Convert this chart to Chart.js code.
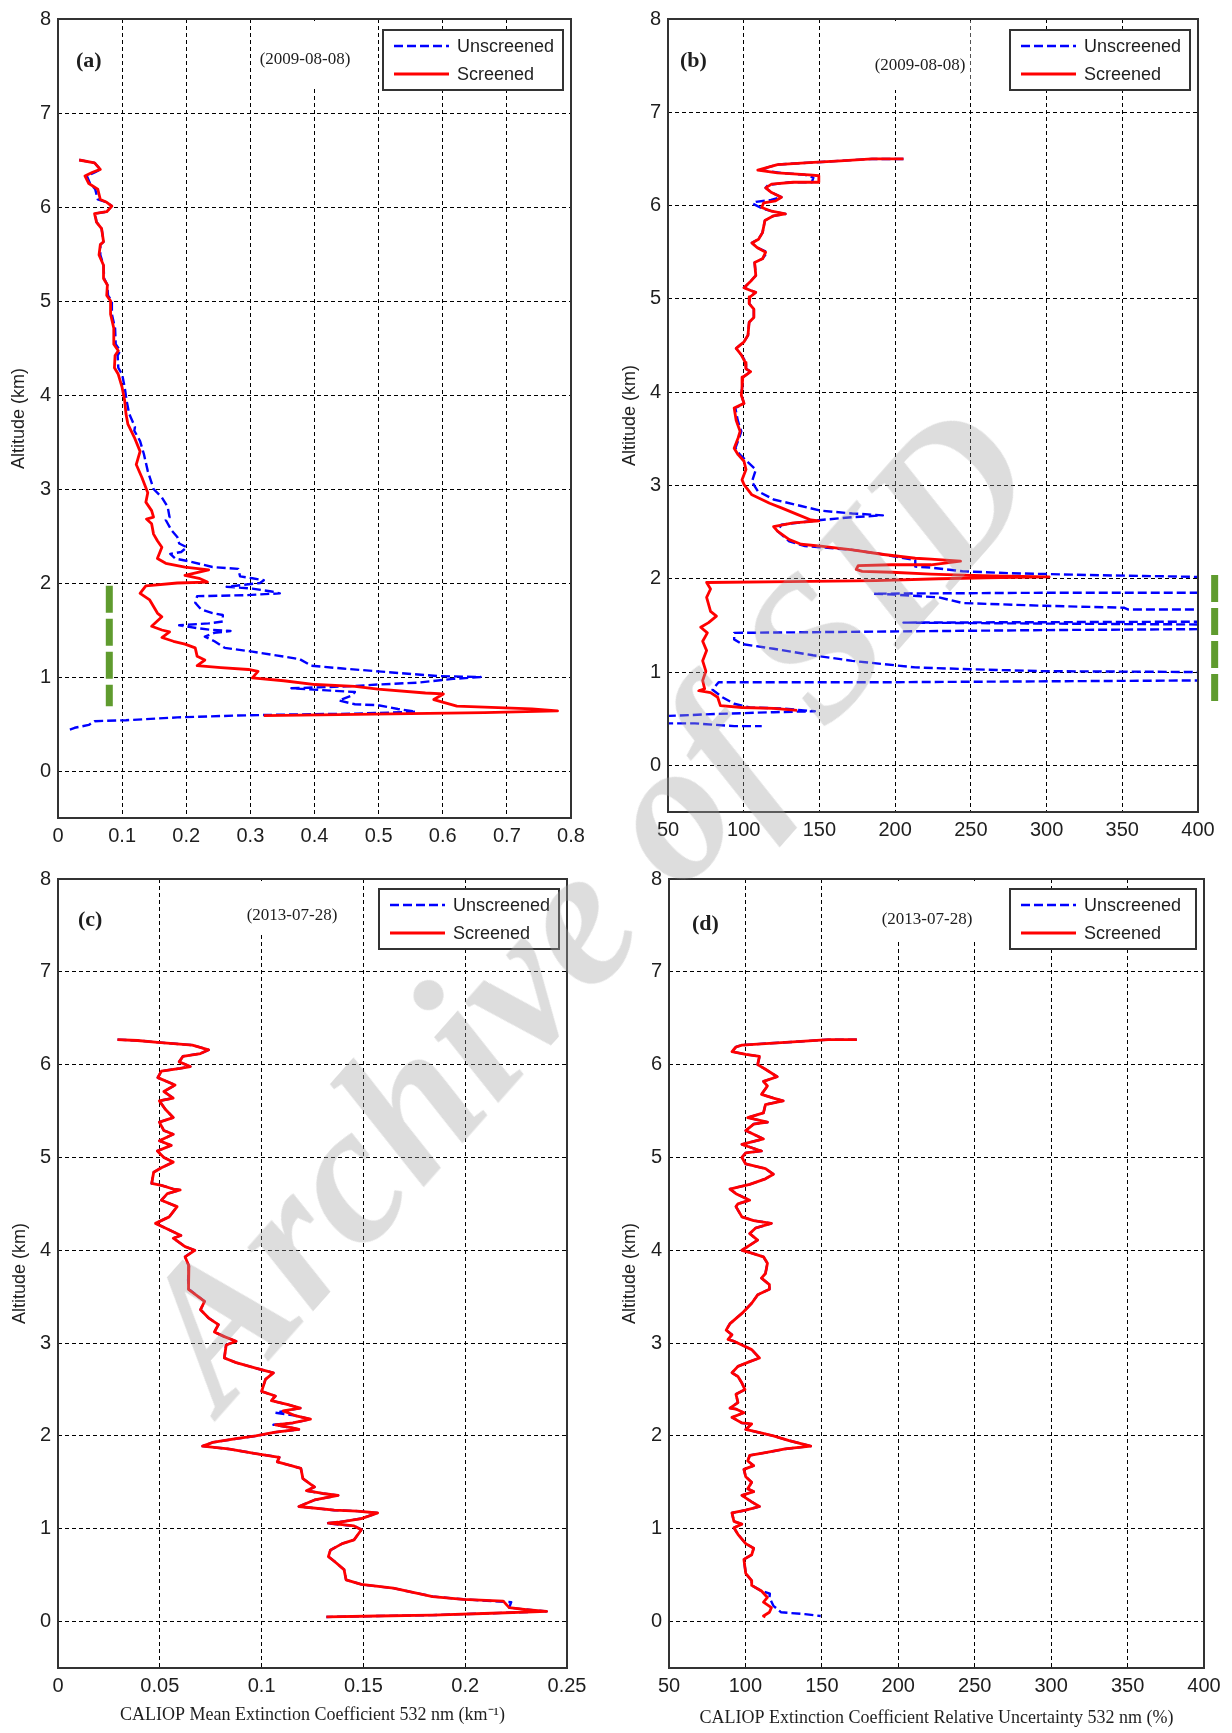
<!DOCTYPE html>
<html>
<head>
<meta charset="utf-8">
<script src="https://cdn.jsdelivr.net/npm/chart.js@4.4.1/dist/chart.umd.min.js"></script>
<style>
    body { margin: 0; background: #fff; width: 1232px; height: 1733px; position: relative; overflow: hidden; }
    canvas { position: absolute; }
    #wm {
        position: absolute; left: 584px; top: 904px;
        transform: translate(-50%, -50%) rotate(-48.5deg);
        font: italic bold 200px 'Liberation Serif', serif; line-height: 1;
        color: rgba(160, 160, 160, 0.36); white-space: nowrap; pointer-events: none;
    }
</style>
</head>
<body>
<canvas id="pa" style="left:0;top:0" width="616" height="860"></canvas>
<canvas id="pb" style="left:616px;top:0" width="616" height="860"></canvas>
<canvas id="pc" style="left:0;top:860px" width="616" height="873"></canvas>
<canvas id="pd" style="left:616px;top:860px" width="616" height="873"></canvas>
<div id="wm">Archive of SID</div>
<script>
// ---- tick values / labels ----
const altTicks = [0, 1, 2, 3, 4, 5, 6, 7, 8];
const altLabels = ['0', '1', '2', '3', '4', '5', '6', '7', '8'];
const extTicksA = [0, 0.1, 0.2, 0.3, 0.4, 0.5, 0.6, 0.7, 0.8];
const extLabelsA = ['0', '0.1', '0.2', '0.3', '0.4', '0.5', '0.6', '0.7', '0.8'];
const extTicksC = [0, 0.05, 0.1, 0.15, 0.2, 0.25];
const extLabelsC = ['0', '0.05', '0.1', '0.15', '0.2', '0.25'];
const uncTicks = [50, 100, 150, 200, 250, 300, 350, 400];
const uncLabels = ['50', '100', '150', '200', '250', '300', '350', '400'];

const seriesNames = ['Unscreened', 'Screened'];
const date2009 = '(2009-08-08)';
const date2013 = '(2013-07-28)';

// ---- profiles: [value, altitude km] ----
// (a) extinction, 2009-08-08
const extA_screened = [[0.033,6.50],[0.057,6.47],[0.066,6.40],[0.054,6.37],[0.042,6.33],[0.048,6.25],[0.062,6.19],[0.066,6.08],[0.076,6.05],[0.084,6.01],[0.076,5.95],[0.057,5.93],[0.060,5.84],[0.068,5.77],[0.071,5.63],[0.066,5.60],[0.064,5.49],[0.071,5.38],[0.071,5.24],[0.077,5.17],[0.076,5.06],[0.082,5.00],[0.082,4.86],[0.087,4.71],[0.087,4.54],[0.094,4.47],[0.089,4.42],[0.088,4.29],[0.094,4.22],[0.100,4.08],[0.104,3.94],[0.106,3.80],[0.109,3.69],[0.119,3.55],[0.128,3.40],[0.122,3.26],[0.131,3.12],[0.140,2.96],[0.137,2.86],[0.146,2.77],[0.149,2.70],[0.138,2.68],[0.146,2.63],[0.149,2.52],[0.155,2.45],[0.162,2.38],[0.155,2.26],[0.168,2.21],[0.198,2.17],[0.235,2.14],[0.198,2.08],[0.220,2.05],[0.233,2.01],[0.186,2.00],[0.137,1.97],[0.128,1.89],[0.143,1.82],[0.155,1.68],[0.162,1.64],[0.146,1.54],[0.162,1.50],[0.174,1.48],[0.162,1.42],[0.180,1.38],[0.198,1.35],[0.214,1.31],[0.217,1.22],[0.229,1.18],[0.217,1.12],[0.254,1.10],[0.297,1.08],[0.312,1.06],[0.303,0.99],[0.352,0.96],[0.401,0.92],[0.463,0.90],[0.499,0.87],[0.573,0.83],[0.601,0.82],[0.586,0.76],[0.622,0.69],[0.665,0.68],[0.739,0.66],[0.779,0.64],[0.665,0.62],[0.549,0.61],[0.438,0.60],[0.321,0.59]];
const extA_unscreened = [[0.033,6.50],[0.057,6.47],[0.066,6.40],[0.058,6.37],[0.045,6.33],[0.050,6.25],[0.058,6.19],[0.062,6.08],[0.076,6.05],[0.084,6.01],[0.076,5.95],[0.058,5.93],[0.060,5.84],[0.068,5.77],[0.071,5.63],[0.066,5.60],[0.066,5.49],[0.071,5.38],[0.072,5.24],[0.077,5.17],[0.078,5.06],[0.084,5.00],[0.084,4.86],[0.089,4.71],[0.090,4.54],[0.097,4.47],[0.093,4.42],[0.094,4.29],[0.100,4.22],[0.104,4.08],[0.107,3.94],[0.111,3.80],[0.120,3.66],[0.119,3.62],[0.128,3.51],[0.134,3.37],[0.140,3.19],[0.149,3.00],[0.162,2.91],[0.171,2.81],[0.174,2.70],[0.168,2.67],[0.177,2.56],[0.186,2.49],[0.189,2.42],[0.201,2.38],[0.192,2.33],[0.175,2.31],[0.183,2.26],[0.205,2.23],[0.241,2.17],[0.281,2.15],[0.284,2.07],[0.303,2.05],[0.321,2.03],[0.315,2.00],[0.263,1.96],[0.303,1.94],[0.333,1.91],[0.346,1.89],[0.291,1.87],[0.217,1.86],[0.214,1.79],[0.223,1.72],[0.241,1.68],[0.257,1.66],[0.257,1.59],[0.235,1.57],[0.189,1.55],[0.217,1.52],[0.241,1.50],[0.269,1.49],[0.244,1.47],[0.229,1.43],[0.244,1.38],[0.260,1.31],[0.303,1.27],[0.340,1.23],[0.377,1.19],[0.395,1.12],[0.444,1.09],[0.499,1.06],[0.555,1.03],[0.592,1.01],[0.659,1.00],[0.616,0.98],[0.561,0.94],[0.499,0.92],[0.450,0.90],[0.364,0.88],[0.413,0.86],[0.463,0.84],[0.457,0.80],[0.438,0.75],[0.463,0.71],[0.499,0.70],[0.530,0.66],[0.558,0.63],[0.463,0.61],[0.352,0.60],[0.278,0.59],[0.186,0.57],[0.106,0.54],[0.057,0.53],[0.048,0.49],[0.026,0.46],[0.014,0.43]];
const extA_layer = [[0.080,1.97],[0.080,0.69]];

// (b) relative uncertainty, 2009-08-08
const uncB_screened = [[205.5,6.50],[184.7,6.50],[163.9,6.48],[143.1,6.46],[122.3,6.44],[115.8,6.41],[109.3,6.38],[122.3,6.35],[143.1,6.33],[149.6,6.32],[149.6,6.25],[132.7,6.25],[118.4,6.23],[114.5,6.19],[118.4,6.14],[124.9,6.09],[121.0,6.05],[113.2,6.03],[111.9,5.98],[118.4,5.94],[127.5,5.91],[119.7,5.89],[114.0,5.84],[112.4,5.71],[109.8,5.64],[105.4,5.60],[108.8,5.55],[114.5,5.50],[112.4,5.43],[107.2,5.39],[108.0,5.25],[104.1,5.18],[100.2,5.12],[104.6,5.09],[108.0,5.07],[104.1,5.02],[103.6,4.95],[106.7,4.89],[106.7,4.80],[103.6,4.75],[102.8,4.61],[100.2,4.54],[95.0,4.47],[98.4,4.40],[101.0,4.32],[101.5,4.25],[104.6,4.22],[99.4,4.16],[98.9,4.04],[98.4,3.97],[100.2,3.88],[93.7,3.83],[95.0,3.70],[97.6,3.58],[96.3,3.51],[93.7,3.40],[96.3,3.33],[100.2,3.26],[101.5,3.17],[98.9,3.06],[100.2,3.01],[105.4,2.90],[117.1,2.81],[124.9,2.76],[135.3,2.69],[144.4,2.63],[149.6,2.62],[132.7,2.60],[119.7,2.56],[122.3,2.51],[130.1,2.42],[137.9,2.37],[150.9,2.35],[171.7,2.31],[192.5,2.26],[213.3,2.22],[223.7,2.21],[243.2,2.19],[223.7,2.15],[197.7,2.15],[175.6,2.14],[174.3,2.10],[178.2,2.08],[197.7,2.07],[223.7,2.05],[244.5,2.04],[265.3,2.03],[301.7,2.02],[260.1,2.01],[228.9,2.00],[187.3,1.98],[130.1,1.97],[75.5,1.96],[78.1,1.89],[75.5,1.80],[78.1,1.65],[82.0,1.60],[76.8,1.53],[71.6,1.48],[76.0,1.42],[72.9,1.33],[75.5,1.23],[72.9,1.12],[75.0,1.01],[72.9,0.91],[74.2,0.82],[70.3,0.80],[78.1,0.78],[82.8,0.73],[84.6,0.64],[98.9,0.62],[119.7,0.61],[135.3,0.59]];
const uncB_unscreened = [[205.5,6.50],[184.7,6.50],[163.9,6.48],[143.1,6.46],[122.3,6.44],[115.8,6.41],[111.0,6.38],[125.0,6.35],[140.5,6.33],[146.0,6.30],[145.0,6.25],[130.0,6.25],[116.0,6.22],[114.5,6.19],[118.4,6.14],[124.9,6.09],[118.0,6.06],[108.0,6.04],[106.0,6.02],[112.0,5.97],[118.4,5.94],[127.5,5.91],[119.7,5.89],[114.0,5.84],[112.4,5.71],[109.8,5.64],[105.4,5.60],[108.8,5.55],[115.5,5.50],[112.4,5.43],[107.2,5.39],[108.0,5.25],[104.1,5.18],[100.2,5.12],[104.6,5.09],[108.0,5.07],[104.1,5.02],[103.6,4.95],[106.7,4.89],[106.7,4.80],[103.6,4.75],[102.8,4.61],[100.2,4.54],[95.0,4.47],[98.4,4.40],[101.5,4.32],[101.5,4.25],[104.6,4.22],[99.4,4.16],[98.9,4.04],[98.4,3.97],[100.2,3.88],[94.5,3.83],[96.0,3.70],[98.4,3.58],[97.0,3.51],[94.5,3.40],[97.5,3.33],[102.0,3.26],[108.0,3.17],[105.4,3.04],[109.3,2.94],[119.7,2.85],[137.9,2.78],[150.9,2.73],[171.7,2.70],[191.9,2.68],[171.7,2.66],[150.9,2.63],[124.9,2.58],[122.3,2.51],[130.1,2.40],[140.5,2.35],[171.7,2.31],[192.5,2.26],[213.3,2.20],[213.3,2.13],[223.7,2.12],[244.5,2.08],[275.7,2.06],[301.7,2.05],[327.7,2.04],[364.1,2.03],[400,2.02],[440,2.01],[430,1.86],[400,1.85],[300,1.85],[186,1.84],[200,1.83],[228.9,1.80],[244.5,1.74],[299,1.71],[351,1.69],[354,1.67],[400,1.67],[440,1.60],[400,1.54],[205.5,1.53],[300,1.52],[400,1.51],[440,1.49],[400,1.46],[300,1.45],[93.7,1.42],[93.7,1.35],[98.9,1.30],[119.7,1.25],[145.7,1.18],[171.7,1.12],[213.3,1.05],[249.7,1.03],[296.5,1.01],[400,1.00],[440,0.96],[400,0.91],[184.7,0.89],[83.4,0.89],[79.4,0.81],[85.9,0.73],[93.7,0.66],[104.1,0.62],[124.9,0.61],[147.0,0.58],[119.7,0.57],[80.7,0.55],[50.8,0.53],[30,0.50],[50,0.45],[67.7,0.45],[93.7,0.42],[111.9,0.42]];
const uncB_layer = [[411,2.04],[411,0.66]];

// (c) extinction, 2013-07-28
const extC_screened = [[0.0292,6.27],[0.039,6.26],[0.049,6.24],[0.066,6.21],[0.074,6.16],[0.070,6.12],[0.0614,6.09],[0.0595,6.03],[0.065,5.98],[0.060,5.96],[0.0508,5.93],[0.049,5.86],[0.0575,5.78],[0.052,5.71],[0.0566,5.64],[0.0498,5.61],[0.0527,5.52],[0.0566,5.43],[0.0498,5.38],[0.052,5.29],[0.0566,5.25],[0.0498,5.18],[0.0556,5.13],[0.0488,5.07],[0.052,5.00],[0.0566,4.95],[0.0508,4.89],[0.047,4.84],[0.046,4.72],[0.0508,4.70],[0.0566,4.66],[0.060,4.65],[0.0537,4.61],[0.0508,4.54],[0.0585,4.47],[0.0546,4.36],[0.0479,4.29],[0.0527,4.24],[0.0604,4.16],[0.0566,4.13],[0.0624,4.04],[0.0672,4.00],[0.0624,3.93],[0.0643,3.83],[0.0639,3.68],[0.0643,3.58],[0.072,3.45],[0.070,3.36],[0.074,3.27],[0.0788,3.20],[0.0768,3.12],[0.0817,3.07],[0.0875,3.02],[0.0826,2.98],[0.0817,2.84],[0.0875,2.79],[0.0971,2.73],[0.1058,2.68],[0.1019,2.61],[0.100,2.48],[0.1068,2.43],[0.1048,2.38],[0.1125,2.34],[0.119,2.30],[0.1106,2.27],[0.1164,2.22],[0.124,2.18],[0.1154,2.14],[0.1068,2.12],[0.1145,2.09],[0.1183,2.07],[0.1068,2.04],[0.0971,2.00],[0.0875,1.97],[0.0759,1.93],[0.071,1.89],[0.0836,1.86],[0.0971,1.81],[0.1087,1.77],[0.1077,1.72],[0.1145,1.68],[0.1193,1.65],[0.1203,1.54],[0.124,1.48],[0.126,1.45],[0.122,1.41],[0.130,1.38],[0.1376,1.36],[0.126,1.31],[0.1183,1.24],[0.1357,1.20],[0.147,1.19],[0.157,1.17],[0.149,1.11],[0.1376,1.07],[0.1328,1.06],[0.1454,1.03],[0.149,0.99],[0.1454,0.88],[0.1396,0.84],[0.1338,0.77],[0.1328,0.70],[0.1357,0.65],[0.1405,0.56],[0.1415,0.45],[0.149,0.40],[0.1647,0.36],[0.184,0.27],[0.199,0.24],[0.2187,0.22],[0.2216,0.15],[0.230,0.13],[0.240,0.11],[0.213,0.09],[0.184,0.07],[0.157,0.06],[0.1318,0.05]];
const extC_unscreened = [[0.0292,6.27],[0.039,6.26],[0.049,6.24],[0.066,6.21],[0.074,6.16],[0.070,6.12],[0.0614,6.09],[0.0595,6.03],[0.065,5.98],[0.060,5.96],[0.0508,5.93],[0.049,5.86],[0.0575,5.78],[0.052,5.71],[0.0566,5.64],[0.0498,5.61],[0.0527,5.52],[0.0566,5.43],[0.0498,5.38],[0.052,5.29],[0.0566,5.25],[0.0498,5.18],[0.0556,5.13],[0.0488,5.07],[0.052,5.00],[0.0566,4.95],[0.0508,4.89],[0.047,4.84],[0.046,4.72],[0.0508,4.70],[0.0566,4.66],[0.060,4.65],[0.0537,4.61],[0.0508,4.54],[0.0585,4.47],[0.0546,4.36],[0.0479,4.29],[0.0527,4.24],[0.0604,4.16],[0.0566,4.13],[0.0624,4.04],[0.0672,4.00],[0.0624,3.93],[0.0643,3.83],[0.0639,3.68],[0.0643,3.58],[0.072,3.45],[0.070,3.36],[0.074,3.27],[0.0788,3.20],[0.0768,3.12],[0.0817,3.07],[0.0875,3.02],[0.0826,2.98],[0.0817,2.84],[0.0875,2.79],[0.0971,2.73],[0.1058,2.68],[0.1019,2.61],[0.100,2.48],[0.1068,2.43],[0.1048,2.38],[0.1125,2.34],[0.119,2.30],[0.1068,2.25],[0.1164,2.22],[0.124,2.18],[0.1154,2.14],[0.1058,2.12],[0.1145,2.09],[0.1183,2.07],[0.1068,2.04],[0.0971,2.00],[0.0875,1.97],[0.0759,1.93],[0.071,1.89],[0.0836,1.86],[0.0971,1.81],[0.1087,1.77],[0.1077,1.72],[0.1145,1.68],[0.1193,1.65],[0.1203,1.54],[0.124,1.48],[0.126,1.45],[0.122,1.41],[0.130,1.38],[0.1376,1.36],[0.126,1.31],[0.1183,1.24],[0.1357,1.20],[0.147,1.19],[0.157,1.17],[0.149,1.11],[0.1376,1.07],[0.1318,1.06],[0.1454,1.03],[0.149,0.99],[0.1454,0.88],[0.1396,0.84],[0.1338,0.77],[0.1328,0.70],[0.1357,0.65],[0.1405,0.56],[0.1415,0.45],[0.149,0.40],[0.1647,0.36],[0.184,0.27],[0.199,0.24],[0.2226,0.21],[0.2216,0.15],[0.230,0.13],[0.240,0.11],[0.213,0.09],[0.184,0.07],[0.157,0.06],[0.1318,0.05]];

// (d) relative uncertainty, 2013-07-28
const uncD_screened = [[172.9,6.27],[154.3,6.27],[136.3,6.25],[115.7,6.23],[97.7,6.21],[93.8,6.19],[91.2,6.14],[100.2,6.11],[109.2,6.09],[108.0,6.00],[113.1,5.95],[120.8,5.87],[111.8,5.82],[114.4,5.77],[110.5,5.68],[118.3,5.64],[124.7,5.61],[113.1,5.57],[111.8,5.48],[101.5,5.43],[114.4,5.38],[105.4,5.36],[100.2,5.29],[111.8,5.20],[97.7,5.14],[110.5,5.07],[100.2,5.05],[97.7,5.00],[100.2,4.93],[113.1,4.88],[118.3,4.82],[113.1,4.77],[102.8,4.71],[95.1,4.68],[89.9,4.66],[93.8,4.61],[102.8,4.54],[95.1,4.50],[93.8,4.47],[97.7,4.36],[105.4,4.32],[117.0,4.29],[106.7,4.24],[102.8,4.18],[108.0,4.11],[97.7,4.00],[104.1,3.97],[111.8,3.93],[114.4,3.86],[113.1,3.75],[110.5,3.70],[115.7,3.63],[115.7,3.58],[108.0,3.52],[104.1,3.43],[97.7,3.32],[89.9,3.21],[87.4,3.14],[91.2,3.09],[88.6,3.04],[92.5,3.02],[97.7,2.98],[104.1,2.93],[109.2,2.84],[102.8,2.80],[95.1,2.75],[91.2,2.68],[95.1,2.64],[97.7,2.57],[99.7,2.50],[93.8,2.45],[95.1,2.36],[89.9,2.30],[93.8,2.29],[99.0,2.25],[91.2,2.20],[97.7,2.14],[104.1,2.13],[100.2,2.07],[108.0,2.04],[118.3,2.00],[128.6,1.95],[142.7,1.89],[126.0,1.86],[113.1,1.82],[102.8,1.79],[101.5,1.73],[105.4,1.68],[99.0,1.64],[100.2,1.56],[104.1,1.50],[101.5,1.43],[105.4,1.40],[97.7,1.36],[104.1,1.29],[109.2,1.24],[100.2,1.20],[91.2,1.17],[92.5,1.08],[97.7,1.05],[92.5,1.01],[95.1,0.94],[100.2,0.84],[105.4,0.79],[104.1,0.72],[99.0,0.67],[100.2,0.52],[104.1,0.44],[104.1,0.39],[110.5,0.33],[114.4,0.26],[111.8,0.21],[117.0,0.15],[115.7,0.10],[111.8,0.06],[113.1,0.05]];
const uncD_unscreened = [[172.9,6.27],[154.3,6.27],[136.3,6.25],[115.7,6.23],[97.7,6.21],[93.8,6.19],[91.2,6.14],[100.2,6.11],[109.2,6.09],[108.0,6.00],[113.1,5.95],[120.8,5.87],[111.8,5.82],[114.4,5.77],[110.5,5.68],[118.3,5.64],[124.7,5.61],[113.1,5.57],[111.8,5.48],[101.5,5.43],[114.4,5.38],[105.4,5.36],[100.2,5.29],[111.8,5.20],[97.7,5.14],[110.5,5.07],[100.2,5.05],[97.7,5.00],[100.2,4.93],[113.1,4.88],[118.3,4.82],[113.1,4.77],[102.8,4.71],[95.1,4.68],[89.9,4.66],[93.8,4.61],[102.8,4.54],[95.1,4.50],[93.8,4.47],[97.7,4.36],[105.4,4.32],[117.0,4.29],[106.7,4.24],[102.8,4.18],[108.0,4.11],[97.7,4.00],[104.1,3.97],[111.8,3.93],[114.4,3.86],[113.1,3.75],[110.5,3.70],[115.7,3.63],[115.7,3.58],[108.0,3.52],[104.1,3.43],[97.7,3.32],[89.9,3.21],[87.4,3.14],[91.2,3.09],[88.6,3.04],[92.5,3.02],[97.7,2.98],[104.1,2.93],[109.2,2.84],[102.8,2.80],[95.1,2.75],[91.2,2.68],[95.1,2.64],[97.7,2.57],[99.7,2.50],[93.8,2.45],[95.1,2.36],[89.9,2.30],[93.8,2.29],[99.0,2.25],[91.2,2.20],[97.7,2.14],[104.1,2.13],[100.2,2.07],[108.0,2.04],[118.3,2.00],[128.6,1.95],[142.7,1.89],[126.0,1.86],[113.1,1.82],[102.8,1.79],[101.5,1.73],[105.4,1.68],[99.0,1.64],[100.2,1.56],[104.1,1.50],[101.5,1.43],[105.4,1.40],[97.7,1.36],[104.1,1.29],[109.2,1.24],[100.2,1.20],[91.2,1.17],[92.5,1.08],[97.7,1.05],[92.5,1.01],[95.1,0.94],[100.2,0.84],[105.4,0.79],[104.1,0.72],[99.0,0.67],[100.2,0.52],[104.1,0.44],[104.1,0.39],[110.5,0.33],[116.0,0.30],[115.7,0.26],[118.3,0.17],[123.4,0.10],[138.9,0.08],[149.2,0.06]];

// ---- look ----
const ink = '#1e1e1e';
const sansFont = "'Liberation Sans', Arial, sans-serif";
const serifFont = "'Liberation Serif', 'Times New Roman', serif";
const tickFont = { family: sansFont, size: 20 };
const altTitleFont = { family: sansFont, size: 18 };

// draws the MATLAB style box, legend, panel tag and date
const decor = {
    id: 'decor',
    beforeDatasetsDraw(chart, args, o) {
        const { ctx, chartArea: a } = chart;
        ctx.save();
        ctx.font = '17px ' + serifFont;
        const w = ctx.measureText(o.date).width;
        const cx = a.left + o.dateX, cy = a.top + o.dateY;
        ctx.fillStyle = '#fff';
        ctx.fillRect(cx - w / 2 - 5, a.top + 2, w + 10, cy - a.top + o.dateBg);
        ctx.restore();
    },
    afterDatasetsDraw(chart, args, o) {
        const { ctx, chartArea: a } = chart;
        const sets = chart.data.datasets;
        ctx.save();
        // frame
        ctx.setLineDash([]);
        ctx.strokeStyle = '#333';
        ctx.lineWidth = 2;
        ctx.strokeRect(a.left, a.top, a.right - a.left, a.bottom - a.top);

        // panel tag + date
        ctx.fillStyle = ink;
        ctx.textBaseline = 'middle';
        ctx.font = 'bold 22px ' + serifFont;
        ctx.textAlign = 'left';
        ctx.fillText(o.tag, a.left + o.tagX, a.top + o.tagY);
        ctx.font = '17px ' + serifFont;
        ctx.textAlign = 'center';
        ctx.fillText(o.date, a.left + o.dateX, a.top + o.dateY);

        // legend
        const bx = a.right - o.legRight - o.legW, by = a.top + o.legTop;
        ctx.fillStyle = '#fff';
        ctx.fillRect(bx, by, o.legW, 60);
        ctx.strokeStyle = '#333';
        ctx.lineWidth = 2;
        ctx.strokeRect(bx, by, o.legW, 60);
        ctx.font = '18px ' + sansFont;
        ctx.textAlign = 'left';
        [0, 1].forEach((k, row) => {
            const ds = sets[k];
            const y = by + 16 + row * 28;
            ctx.beginPath();
            ctx.strokeStyle = ds.borderColor;
            ctx.lineWidth = ds.borderWidth;
            ctx.setLineDash(ds.borderDash || []);
            ctx.moveTo(bx + 11, y);
            ctx.lineTo(bx + 66, y);
            ctx.stroke();
            ctx.setLineDash([]);
            ctx.fillStyle = ink;
            ctx.fillText(ds.label, bx + 74, y + 1);
        });
        ctx.restore();
    }
};

const pts = arr => arr.map(p => ({ x: p[0], y: p[1] }));

function makePanel(id, s) {
    const sets = [
        { label: seriesNames[0], data: pts(s.unscreened), borderColor: '#0000ff', borderWidth: 2.4, borderDash: [9, 4], order: 1 },
        { label: seriesNames[1], data: pts(s.screened), borderColor: '#ff0000', borderWidth: 2.8, order: 0 }
    ];
    if (s.layer) {
        sets.push({ label: 'layer', data: pts(s.layer), borderColor: '#5f9b2e', borderWidth: 7,
            borderDash: [27, 6], borderCapStyle: 'butt', order: 2, clip: false });
    }
    const xTitle = s.xTitle
        ? { display: true, text: s.xTitle, color: ink, font: { family: serifFont, size: 18 }, padding: { top: 0, bottom: s.xTitlePad } }
        : { display: false };

    return new Chart(document.getElementById(id), {
        type: 'scatter',
        data: {
            datasets: sets.map(d => Object.assign({ showLine: true, pointRadius: 0, fill: false, tension: 0, borderJoinStyle: 'round' }, d))
        },
        options: {
            responsive: false,
            animation: false,
            layout: { padding: { left: 0, top: s.padTop, right: s.padRight, bottom: 0 } },
            plugins: { legend: { display: false }, tooltip: { enabled: false }, decor: s.decor },
            scales: {
                x: {
                    type: 'linear', min: s.xTicks[0], max: s.xTicks[s.xTicks.length - 1],
                    afterBuildTicks: sc => { sc.ticks = s.xTicks.map(v => ({ value: v })); },
                    afterFit: sc => { sc.height = s.xh; },
                    ticks: { font: tickFont, color: ink, padding: 6, maxRotation: 0, autoSkip: false, callback: (v, i) => s.xLabels[i] },
                    grid: { color: '#000', lineWidth: 1, drawTicks: false },
                    border: { display: false, dash: [4, 3] },
                    title: xTitle
                },
                y: {
                    type: 'linear', min: -0.5, max: 8,
                    afterBuildTicks: sc => { sc.ticks = altTicks.map(v => ({ value: v })); },
                    afterFit: sc => { sc.width = s.yw; },
                    ticks: { font: tickFont, color: ink, padding: 7, callback: (v, i) => altLabels[i] },
                    grid: { color: '#000', lineWidth: 1, drawTicks: false },
                    border: { display: false, dash: [4, 3] },
                    title: { display: true, text: 'Altitude (km)', color: ink, font: altTitleFont, padding: { top: s.yTitlePad, bottom: 0 } }
                }
            }
        },
        plugins: [decor]
    });
}

makePanel('pa', {
    screened: extA_screened, unscreened: extA_unscreened, layer: extA_layer,
    xTicks: extTicksA, xLabels: extLabelsA,
    padTop: 16, padRight: 45, yw: 58, xh: 42, yTitlePad: 8,
    decor: { tag: '(a)', tagX: 18, tagY: 42, date: date2009, dateX: 247, dateY: 41, dateBg: 24, legRight: 8, legTop: 11, legW: 180 }
});
makePanel('pb', {
    screened: uncB_screened, unscreened: uncB_unscreened, layer: uncB_layer,
    xTicks: uncTicks, xLabels: uncLabels,
    padTop: 16, padRight: 34, yw: 52, xh: 48, yTitlePad: 3,
    decor: { tag: '(b)', tagX: 12, tagY: 42, date: date2009, dateX: 252, dateY: 47, dateBg: 22, legRight: 8, legTop: 11, legW: 180 }
});
makePanel('pc', {
    screened: extC_screened, unscreened: extC_unscreened,
    xTicks: extTicksC, xLabels: extLabelsC,
    xTitle: 'CALIOP Mean Extinction Coefficient 532 nm (km\u207B\u00B9)', xTitlePad: 7,
    padTop: 13, padRight: 49, yw: 58, xh: 65, yTitlePad: 9,
    decor: { tag: '(c)', tagX: 20, tagY: 41, date: date2013, dateX: 234, dateY: 37, dateBg: 16, legRight: 8, legTop: 10, legW: 180 }
});
makePanel('pd', {
    screened: uncD_screened, unscreened: uncD_unscreened,
    xTicks: uncTicks, xLabels: uncLabels,
    xTitle: 'CALIOP Extinction Coefficient Relative Uncertainty 532 nm (%)', xTitlePad: 4,
    padTop: 13, padRight: 28, yw: 53, xh: 65, yTitlePad: 3,
    decor: { tag: '(d)', tagX: 23, tagY: 45, date: date2013, dateX: 258, dateY: 41, dateBg: 18, legRight: 8, legTop: 10, legW: 186 }
});
</script>
</body>
</html>
